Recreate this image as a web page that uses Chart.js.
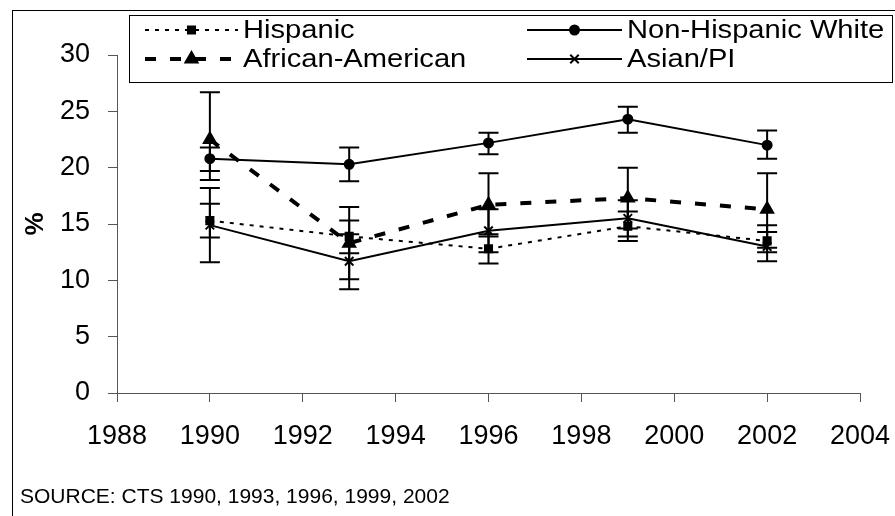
<!DOCTYPE html>
<html>
<head>
<meta charset="utf-8">
<script src="https://cdn.jsdelivr.net/npm/chart.js@4.4.1/dist/chart.umd.min.js"></script>
<style>
  html, body { margin: 0; padding: 0; background: #fff; }
  #wrap { width: 895px; height: 516px; }
</style>
</head>
<body>
<div id="wrap"><canvas id="chart" width="895" height="516"></canvas></div>
<script>
// Survey years and x-axis tick labels
const years = [1990, 1993, 1996, 1999, 2002];
const xTicks = [1988, 1990, 1992, 1994, 1996, 1998, 2000, 2002, 2004];
const yTicks = [0, 5, 10, 15, 20, 25, 30];

// Percent by group, with lower / upper ends of the error bars
const hispanic     = [15.3, 13.9, 12.8, 14.8, 13.5];
const hispanicLow  = [13.8, 12.4, 11.5, 13.5, 11.7];
const hispanicHigh = [16.8, 15.3, 14.1, 16.1, 14.9];

const white        = [20.8, 20.3, 22.2, 24.3, 22.0];
const whiteLow     = [19.7, 18.8, 21.2, 23.1, 20.8];
const whiteHigh    = [21.8, 21.8, 23.1, 25.4, 23.3];

const african      = [22.5, 13.3, 16.7, 17.3, 16.3];
const africanLow   = [18.9, 10.1, 13.9, 14.6, 12.9];
const africanHigh  = [26.7, 16.5, 19.5, 20.0, 19.5];

const asian        = [14.9, 11.7, 14.4, 15.5, 13.0];
const asianLow     = [11.6,  9.2, 12.5, 13.9, 12.5];
const asianHigh    = [18.2, 14.1, 16.3, 17.1, 14.3];

const sourceNote = 'SOURCE: CTS 1990, 1993, 1996, 1999, 2002';
const FONT = 'Arial, "Liberation Sans", sans-serif';

const pts = vals => vals.map((v, i) => ({ x: years[i], y: v }));

const datasets = [
  { label: 'Hispanic', data: pts(hispanic), low: hispanicLow, high: hispanicHigh,
    borderDash: [4, 6], borderWidth: 2, pointStyle: 'rect', pointRadius: 5, legendCol: 0, legendRow: 0 },
  { label: 'Non-Hispanic White', data: pts(white), low: whiteLow, high: whiteHigh,
    borderDash: [], borderWidth: 2, pointStyle: 'circle', pointRadius: 4.5, legendCol: 1, legendRow: 0 },
  { label: 'African-American', data: pts(african), low: africanLow, high: africanHigh,
    borderDash: [11, 14], borderWidth: 4, pointStyle: 'triangle', pointRadius: 7, legendCol: 0, legendRow: 1 },
  { label: 'Asian/PI', data: pts(asian), low: asianLow, high: asianHigh,
    borderDash: [], borderWidth: 2, pointStyle: 'crossRot', pointRadius: 6, legendCol: 1, legendRow: 1 }
].map(d => Object.assign({
  borderColor: '#000', backgroundColor: '#000',
  pointBackgroundColor: '#000', pointBorderColor: '#000', pointBorderWidth: 2,
  fill: false, tension: 0
}, d));

// White page with a thin frame around the figure
const framePlugin = {
  id: 'frame',
  beforeDraw(chart) {
    const ctx = chart.ctx;
    ctx.save();
    ctx.fillStyle = '#fff';
    ctx.fillRect(0, 0, chart.width, chart.height);
    ctx.strokeStyle = '#000';
    ctx.lineWidth = 1;
    ctx.strokeRect(12.5, 10.5, chart.width + 20, chart.height + 20);
    ctx.restore();
  }
};

// Vertical error bars with caps for every point
const errorBarPlugin = {
  id: 'errorBars',
  afterDatasetsDraw(chart) {
    const ctx = chart.ctx;
    const xs = chart.scales.x, ys = chart.scales.y;
    ctx.save();
    ctx.strokeStyle = '#000';
    ctx.lineWidth = 2;
    ctx.setLineDash([]);
    chart.data.datasets.forEach(ds => {
      years.forEach((yr, i) => {
        const x = xs.getPixelForValue(yr);
        const y1 = ys.getPixelForValue(ds.low[i]);
        const y2 = ys.getPixelForValue(ds.high[i]);
        ctx.beginPath();
        ctx.moveTo(x, y1); ctx.lineTo(x, y2);
        ctx.moveTo(x - 10, y1); ctx.lineTo(x + 10, y1);
        ctx.moveTo(x - 10, y2); ctx.lineTo(x + 10, y2);
        ctx.stroke();
      });
    });
    ctx.restore();
  }
};

// Text stretched slightly wider than the plain face
function wideText(ctx, text, x, y, sx) {
  ctx.save();
  ctx.translate(x, y);
  ctx.scale(sx, 1);
  ctx.fillText(text, 0, 0);
  ctx.restore();
}

// Boxed two-column legend and the source note
const legendPlugin = {
  id: 'boxLegend',
  afterDraw(chart) {
    const ctx = chart.ctx;
    ctx.save();
    ctx.strokeStyle = '#000';
    ctx.lineWidth = 1;
    ctx.setLineDash([]);
    ctx.strokeRect(129.5, 15.5, 763, 67);

    const cols = [{ x0: 145, x1: 238, tx: 243 }, { x0: 527, x1: 622, tx: 627 }];
    const rows = [30, 59];
    chart.data.datasets.forEach(ds => {
      const c = cols[ds.legendCol], y = rows[ds.legendRow];
      ctx.strokeStyle = '#000';
      ctx.fillStyle = '#000';
      ctx.lineWidth = ds.borderWidth;
      ctx.setLineDash(ds.borderDash);
      ctx.beginPath();
      ctx.moveTo(c.x0, y); ctx.lineTo(c.x1, y);
      ctx.stroke();
      ctx.setLineDash([]);
      ctx.lineWidth = ds.pointBorderWidth;
      Chart.helpers.drawPoint(ctx, {
        pointStyle: ds.pointStyle, radius: ds.pointRadius, rotation: 0, borderWidth: ds.pointBorderWidth
      }, (c.x0 + c.x1) / 2, y);
      ctx.font = '26px ' + FONT;
      ctx.textBaseline = 'middle';
      ctx.textAlign = 'left';
      wideText(ctx, ds.label, c.tx, y + 1, 1.12);
    });

    ctx.font = '21px ' + FONT;
    ctx.textBaseline = 'middle';
    ctx.fillText(sourceNote, 20, 497);
    ctx.restore();
  }
};

new Chart(document.getElementById('chart'), {
  type: 'line',
  data: { datasets },
  options: {
    responsive: false,
    animation: false,
    devicePixelRatio: 1,
    layout: { padding: { left: 12, right: 35, top: 55, bottom: 53 } },
    plugins: { legend: { display: false }, tooltip: { enabled: false } },
    scales: {
      x: {
        type: 'linear', min: xTicks[0], max: xTicks[xTicks.length - 1],
        afterBuildTicks: s => { s.ticks = xTicks.map(v => ({ value: v })); },
        afterFit: s => { s.height = 70; s.paddingLeft = 0; s.paddingRight = 0; },
        ticks: { color: '#000', font: { family: FONT, size: 27 }, padding: 18, maxRotation: 0,
                 autoSkip: false, callback: v => String(v) },
        grid: { display: true, drawOnChartArea: false, drawTicks: true, tickLength: 9, color: '#555' },
        border: { display: true, color: '#555', width: 1 }
      },
      y: {
        min: yTicks[0], max: yTicks[yTicks.length - 1],
        afterBuildTicks: s => { s.ticks = yTicks.map(v => ({ value: v })); },
        afterFit: s => { s.width = 105; },
        ticks: { color: '#000', font: { family: FONT, size: 27 }, padding: 18, callback: v => String(v) },
        grid: { display: true, drawOnChartArea: false, drawTicks: true, tickLength: 9, color: '#555' },
        border: { display: true, color: '#555', width: 1 },
        title: { display: true, text: '%', color: '#000', font: { family: FONT, size: 26, weight: 'bold' }, padding: { top: 8, bottom: 0 } }
      }
    }
  },
  plugins: [framePlugin, errorBarPlugin, legendPlugin]
});
</script>
</body>
</html>
